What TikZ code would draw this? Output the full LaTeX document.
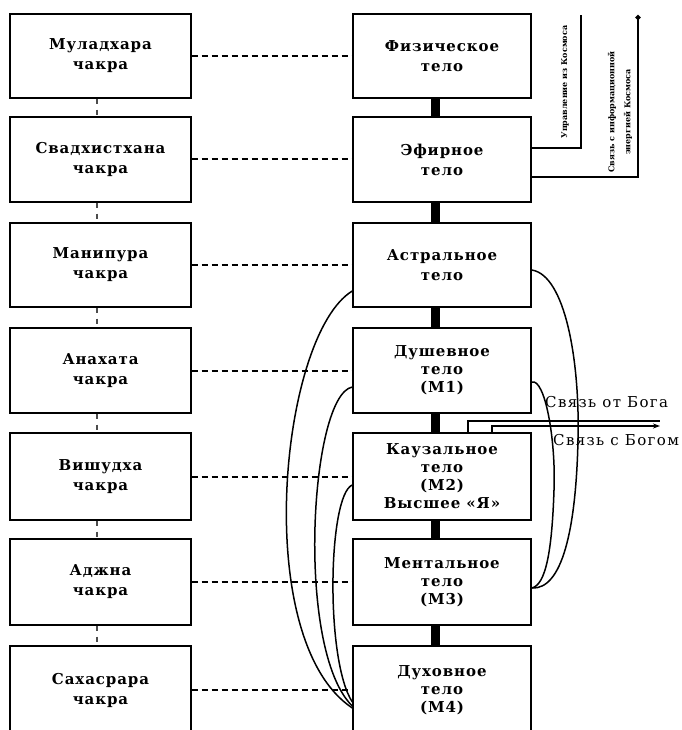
\documentclass[tikz,border=0pt]{standalone}
\usepackage{fontspec}
\setmainfont{DejaVu Serif}
\newfontfamily\boxfont[LetterSpace=6]{DejaVu Serif}
\newfontfamily\labfont[LetterSpace=9]{DejaVu Serif}
\usetikzlibrary{arrows.meta}
\begin{document}
\begin{tikzpicture}[x=1pt,y=-1pt,
  chakra/.style={draw, line width=1.4pt, minimum width=181pt, inner sep=0pt, align=center,
    font=\boxfont\bfseries\fontsize{15}{20}\selectfont},
  body/.style={chakra, minimum width=178pt},
  bodym/.style={body, font=\boxfont\bfseries\fontsize{15}{18}\selectfont},
  link/.style={line width=2pt, dash pattern=on 6pt off 4pt},
  spine/.style={line width=9pt},
  tickline/.style={line width=1.1pt, black!70, dash pattern=on 5pt off 6pt},
  curve/.style={line width=1.5pt},
  wire/.style={line width=1.3pt},
  vlab/.style={rotate=90, inner sep=0pt, align=center},
  godlab/.style={anchor=west, inner sep=0pt, font=\labfont\fontsize{15}{16}\selectfont}
]
\fill[white] (0,0) rectangle (681,730);
\useasboundingbox (0,0) rectangle (681,730);

% chakras
\node[chakra, minimum height=84pt] (l1) at (100.5,56) {Муладхара\\чакра};
\node[chakra, minimum height=85pt] (l2) at (100.5,159.5) {Свадхистхана\\чакра};
\node[chakra, minimum height=84pt] (l3) at (100.5,265) {Манипура\\чакра};
\node[chakra, minimum height=85pt] (l4) at (100.5,370.5) {Анахата\\чакра};
\node[chakra, minimum height=87pt] (l5) at (100.5,476.5) {Вишудха\\чакра};
\node[chakra, minimum height=86pt] (l6) at (100.5,582) {Аджна\\чакра};
\node[chakra, minimum height=88pt] (l7) at (100.5,690) {Сахасрара\\чакра};

% bodies
\node[body, minimum height=84pt] (r1) at (442,56) {Физическое\\тело};
\node[body, minimum height=85pt] (r2) at (442,159.5) {Эфирное\\тело};
\node[body, minimum height=84pt] (r3) at (442,265) {Астральное\\тело};
\node[bodym, minimum height=85pt] (r4) at (442,370.5) {Душевное\\тело\\(М1)};
\node[bodym, minimum height=87pt] (r5) at (442,476.5) {Каузальное\\тело\\(М2)\\Высшее «Я»};
\node[bodym, minimum height=86pt] (r6) at (442,582) {Ментальное\\тело\\(М3)};
\node[bodym, minimum height=88pt] (r7) at (442,690) {Духовное\\тело\\(М4)};

% dashed links
\foreach \i in {1,...,7} {\draw[link] (l\i.east) -- (r\i.west);}

% vertical connectors
\foreach \i/\j in {1/2,2/3,3/4,4/5,5/6,6/7} {
  \draw[spine] ([xshift=-7pt]r\i.south) -- ([xshift=-7pt]r\j.north);
  \draw[tickline] ([xshift=-3.5pt]l\i.south) -- ([xshift=-3.5pt]l\j.north);
}

% left curves
\draw[curve] ([yshift=-26pt]r3.west) .. controls (280,335) and (250,640) .. ([yshift=-18pt]r7.west);
\draw[curve] ([yshift=-16.5pt]r4.west) .. controls (310,395) and (295,650) .. ([yshift=-16pt]r7.west);
\draw[curve] ([yshift=-8.5pt]r5.west) .. controls (328,495) and (325,660) .. ([yshift=-12pt]r7.west);

% right curves
\draw[curve] ([yshift=-5pt]r3.east) .. controls (565,275) and (580,360) .. (578,440)
  .. controls (576,530) and (562,590) .. ([yshift=-6pt]r6.east);
\draw[curve] ([yshift=-11.5pt]r4.east) .. controls (545,378) and (556,440) .. (554,490)
  .. controls (552,550) and (546,585) .. ([yshift=-6pt]r6.east);

% cosmos lines
\coordinate (k1) at (581,15);
\coordinate (k2) at (638,15);
\draw[wire] ([yshift=11.5pt]r2.east) -| (k1);
\draw[wire,-{Circle[length=5pt]}] ([yshift=-17.5pt]r2.east) -| (k2);
\node[vlab, font=\bfseries\fontsize{8}{10}\selectfont] (u1) at (565,82) {Управление из Космоса};
\node[vlab, font=\bfseries\fontsize{8}{16}\selectfont] (u2) at (620,112) {Связь с информационной\\энергией Космоса};

% god lines
\coordinate (g1) at (660,421);
\coordinate (g2) at (660,426);
\draw[wire] ([xshift=26pt]r5.north) |- (g1);
\draw[wire,-{Stealth[length=7pt,width=5pt]}] ([xshift=50pt]r5.north) |- (g2);
\node[godlab] (s1) at (545,402) {Связь от Бога};
\node[godlab] (s2) at (553,440) {Связь с Богом};
\end{tikzpicture}
\end{document}
